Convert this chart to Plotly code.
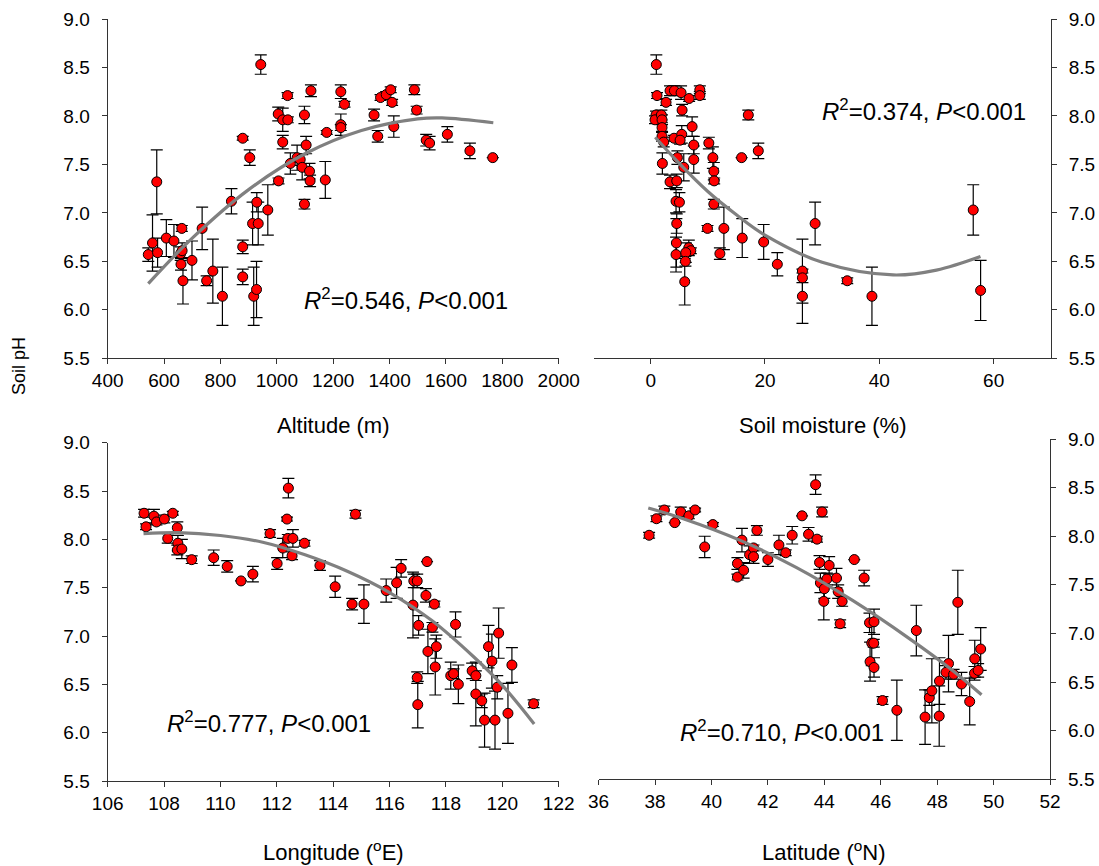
import plotly.graph_objects as go

# ---------------- Data ----------------
alt_x = [544, 559, 574, 577, 608, 635, 663, 659, 664, 660, 667, 699, 735, 751, 773, 807,
         839, 879, 904, 879, 879, 914, 929, 934, 918, 928, 943, 968, 1006, 1005, 1021, 1039,
         1038, 1021, 1048, 1072, 1083, 1090, 1104, 1116, 1118, 1098, 1098, 1121, 1172, 1177,
         1227, 1227, 1227, 1240, 1345, 1358, 1368, 1388, 1404, 1409, 1415, 1488, 1496, 1530,
         1542, 1605, 1685, 1766]
alt_ph = [6.57, 6.69, 7.32, 6.59, 6.74, 6.71, 6.84, 6.58, 6.61, 6.47, 6.30, 6.51, 6.84, 6.30, 6.40, 6.14,
          7.12, 7.77, 7.57, 6.65, 6.34, 6.89, 7.11, 6.89, 6.14, 6.21, 8.53, 7.03, 7.33, 8.02, 7.96, 7.96,
          8.21, 7.73, 7.51, 7.57, 7.55, 7.47, 7.70, 7.43, 7.33, 8.01, 7.09, 8.26, 7.34, 7.83,
          8.25, 7.91, 7.88, 8.12, 8.01, 7.79, 8.19, 8.22, 8.27, 8.14, 7.89, 8.27, 8.06, 7.75,
          7.72, 7.81, 7.64, 7.57]
alt_err = [0.07, 0.29, 0.33, 0.15, 0.19, 0.17, 0.03, 0.07, 0.08, 0.06, 0.24, 0.20, 0.22, 0.05, 0.33, 0.30,
           0.13, 0.02, 0.08, 0.07, 0.08, 0.22, 0.10, 0.22, 0.30, 0.29, 0.10, 0.26, 0.03, 0.07, 0.12, 0.03,
           0.03, 0.07, 0.11, 0.13, 0.06, 0.13, 0.09, 0.08, 0.06, 0.09, 0.05, 0.06, 0.19, 0.02,
           0.07, 0.11, 0.03, 0.03, 0.06, 0.06, 0.03, 0.03, 0.03, 0.03, 0.11, 0.05, 0.04, 0.06,
           0.07, 0.08, 0.08, 0.00]
alt_fit_x = [544, 700, 900, 1100, 1300, 1500, 1586, 1768]
alt_fit_y = [6.27, 6.74, 7.24, 7.61, 7.85, 7.97, 7.98, 7.93]

sm_x = [0.99, 1.11, 0.94, 0.76, 1.87, 1.99, 1.99, 1.99, 2.28, 2.05, 2.69, 3.39, 4.15, 5.32, 6.73,
        8.60, 8.60, 5.50, 7.25, 4.09, 5.44, 5.15, 7.54, 7.54, 4.68, 5.79, 3.39, 4.56, 4.44, 5.03,
        4.56, 4.50, 4.44, 6.67, 7.02, 6.14, 6.08, 5.96, 10.18, 10.88, 11.05, 11.11, 11.05, 9.94,
        12.81, 12.11, 15.91, 17.08, 18.83, 16.02, 19.77, 22.16, 26.55, 26.55, 26.55, 28.77,
        34.39, 38.71, 56.43, 57.72]
sm_ph = [8.53, 8.21, 8.01, 7.96, 8.01, 7.96, 7.88, 7.79, 7.73, 7.51, 8.14, 8.26, 8.26, 8.24, 8.18,
         8.27, 8.21, 8.06, 7.89, 7.77, 7.81, 7.75, 7.70, 7.55, 7.57, 7.47, 7.32, 7.33, 7.12, 7.11,
         6.89, 6.69, 6.57, 6.64, 6.61, 6.59, 6.50, 6.29, 7.72, 7.57, 7.43, 7.33, 7.09, 6.84,
         6.84, 6.58, 7.57, 8.01, 7.64, 6.74, 6.70, 6.47, 6.40, 6.33, 6.14, 6.89,
         6.30, 6.14, 7.03, 6.20]
sm_err = [0.10, 0.03, 0.04, 0.04, 0.05, 0.05, 0.05, 0.05, 0.05, 0.11, 0.03, 0.05, 0.05, 0.07, 0.03,
          0.04, 0.04, 0.06, 0.10, 0.03, 0.09, 0.04, 0.09, 0.14, 0.07, 0.14, 0.07, 0.07, 0.12, 0.10,
          0.10, 0.25, 0.18, 0.08, 0.03, 0.10, 0.05, 0.24, 0.06, 0.11, 0.09, 0.03, 0.05, 0.03,
          0.22, 0.06, 0.00, 0.05, 0.08, 0.20, 0.18, 0.12, 0.33, 0.05, 0.28, 0.22,
          0.03, 0.30, 0.26, 0.31]
sm_fit_x = [0.8, 5, 10, 15, 20, 30, 42.4, 50, 57.7]
sm_fit_y = [7.78, 7.51, 7.22, 6.98, 6.77, 6.49, 6.36, 6.41, 6.55]

lon_x = [107.29, 107.36, 107.64, 107.73, 108.01, 108.31, 108.47, 108.13, 108.49, 108.47, 108.63,
         108.98, 109.76, 110.24, 110.73, 111.15, 111.76, 112.01, 112.21, 112.36, 112.41, 112.39,
         112.57, 112.54, 112.98, 113.53, 114.07, 114.67, 115.09, 114.79, 115.88, 116.25, 116.41,
         116.86, 116.98, 116.83, 117.33, 117.29, 117.59, 117.03, 117.52, 118.34, 117.36, 117.66,
         117.62, 116.98, 117.00, 118.17, 118.27, 118.44, 118.93, 119.06, 119.06, 119.27, 119.37,
         119.51, 119.63, 119.87, 119.82, 119.74, 120.20, 120.34, 121.11]
lon_ph = [8.27, 8.13, 8.24, 8.18, 8.21, 8.27, 8.12, 8.01, 7.96, 7.89, 7.90,
          7.79, 7.81, 7.72, 7.57, 7.64, 8.06, 7.75, 7.91, 8.21, 8.53, 8.01,
          8.01, 7.83, 7.96, 7.73, 7.51, 7.33, 7.33, 8.26, 7.47, 7.55, 7.70,
          7.57, 7.57, 7.32, 7.77, 7.42, 7.33, 7.11, 7.09, 7.12, 6.84, 6.89,
          6.68, 6.57, 6.29, 6.59, 6.61, 6.50, 6.64, 6.59, 6.40, 6.33, 6.13,
          6.89, 6.74, 7.03, 6.47, 6.13, 6.20, 6.70, 6.30]
lon_err = [0.04, 0.03, 0.07, 0.03, 0.04, 0.02, 0.06, 0.05, 0.08, 0.05, 0.10,
           0.04, 0.08, 0.06, 0.00, 0.08, 0.04, 0.06, 0.10, 0.02, 0.10, 0.04,
           0.09, 0.04, 0.03, 0.05, 0.11, 0.06, 0.20, 0.04, 0.12, 0.16, 0.09,
           0.07, 0.07, 0.34, 0.00, 0.07, 0.03, 0.10, 0.05, 0.13, 0.23, 0.12,
           0.29, 0.06, 0.24, 0.14, 0.05, 0.20, 0.08, 0.05, 0.33, 0.07, 0.28,
           0.22, 0.28, 0.26, 0.12, 0.30, 0.31, 0.18, 0.04]
lon_fit_x = [107.27, 108.5, 110, 111.5, 113, 114.5, 116, 117.5, 119, 120, 121.13]
lon_fit_y = [8.06, 8.07, 8.04, 7.97, 7.84, 7.67, 7.45, 7.16, 6.78, 6.49, 6.09]

lat_x = [37.79, 38.05, 38.33, 38.70, 38.91, 39.20, 39.42, 39.76, 40.05, 41.08, 40.92, 40.92,
         41.14, 41.35, 41.49, 41.49, 41.61, 42.00, 42.39, 42.63, 42.86, 43.21, 43.44, 43.69,
         43.74, 43.92, 43.83, 44.17, 43.86, 44.00, 44.09, 43.98, 44.43, 44.49, 44.63, 44.56,
         45.06, 45.41, 45.60, 45.76, 45.68, 45.75, 45.62, 45.76, 46.06, 46.57, 47.26, 47.57,
         47.72, 47.81, 48.08, 48.07, 48.40, 48.31, 48.58, 48.73, 48.86, 49.15, 49.33, 49.32,
         49.45, 49.54]
lat_ph = [8.01, 8.18, 8.27, 8.14, 8.25, 8.21, 8.27, 7.89, 8.12, 7.96, 7.72, 7.58,
          7.65, 7.81, 7.88, 7.79, 8.06, 7.76, 7.91, 7.83, 8.01, 8.21, 8.02, 8.53,
          7.97, 8.25, 7.73, 7.70, 7.52, 7.46, 7.56, 7.33, 7.57, 7.43, 7.33, 7.10,
          7.76, 7.57, 7.11, 7.12, 6.90, 6.90, 6.71, 6.65, 6.31, 6.21, 7.03, 6.14,
          6.34, 6.41, 6.51, 6.15, 6.69, 6.60, 6.58, 7.32, 6.48, 6.30, 6.74, 6.59,
          6.62, 6.84]
lat_err = [0.03, 0.03, 0.04, 0.00, 0.05, 0.03, 0.02, 0.11, 0.02, 0.12, 0.06, 0.03,
           0.08, 0.09, 0.03, 0.07, 0.05, 0.07, 0.10, 0.03, 0.09, 0.00, 0.07, 0.10,
           0.03, 0.05, 0.07, 0.09, 0.10, 0.10, 0.06, 0.19, 0.10, 0.07, 0.05, 0.04,
           0.00, 0.08, 0.10, 0.13, 0.23, 0.04, 0.20, 0.10, 0.04, 0.31, 0.26, 0.28,
           0.08, 0.33, 0.24, 0.31, 0.29, 0.07, 0.05, 0.33, 0.12, 0.24, 0.19, 0.07,
           0.07, 0.22]
lat_fit_x = [37.76, 39, 41, 43, 45, 47, 48.5, 49.57]
lat_fit_y = [8.29, 8.18, 7.96, 7.68, 7.34, 6.95, 6.63, 6.37]

# ---------------- Figure ----------------
W, H = 1099, 866
FONT = "Arial, Liberation Sans, sans-serif"

def px(x):
    return x / W

def py(y):
    return 1 - y / H

fig = go.Figure()

panels = [
    (alt_x, alt_ph, alt_err, alt_fit_x, alt_fit_y, "x", "y"),
    (sm_x, sm_ph, sm_err, sm_fit_x, sm_fit_y, "x2", "y2"),
    (lon_x, lon_ph, lon_err, lon_fit_x, lon_fit_y, "x3", "y3"),
    (lat_x, lat_ph, lat_err, lat_fit_x, lat_fit_y, "x4", "y4"),
]

for xs, ys, es, fx, fy, xa, ya in panels:
    fig.add_trace(go.Scatter(
        x=xs, y=ys, mode="markers", xaxis=xa, yaxis=ya,
        marker=dict(color="#ff0000", size=10, line=dict(color="#000000", width=1)),
        error_y=dict(type="data", array=es, visible=True, color="#000000",
                     thickness=1.2, width=6),
        showlegend=False, cliponaxis=False,
    ))
    fig.add_trace(go.Scatter(
        x=fx, y=fy, mode="lines", xaxis=xa, yaxis=ya,
        line=dict(color="#808080", width=3.2, shape="spline"),
        showlegend=False,
    ))

axis_common = dict(
    showgrid=False, zeroline=False, showline=True, linecolor="#333333", linewidth=1.3,
    ticks="outside", ticklen=5, tickwidth=1.2, tickcolor="#333333", automargin=False,
    tickfont=dict(family=FONT, size=19, color="#000000"),
)
ycommon = dict(axis_common, range=[5.5, 9.0], tickvals=[5.5, 6.0, 6.5, 7.0, 7.5, 8.0, 8.5, 9.0],
               tickformat=".1f", ticklabelstandoff=8)

top_dom = [py(358.3), py(19)]
left_dom = [px(107.7), px(558.7)]
right_dom_top = [px(593.5), px(1050.8)]
right_dom_bot = [px(598.6), px(1050.1)]

fig.update_layout(
    template="none",
    width=W, height=H, autosize=False,
    margin=dict(l=0, r=0, t=0, b=0, pad=0, autoexpand=False),
    paper_bgcolor="white", plot_bgcolor="white",
    font=dict(family=FONT, color="#000000"),
    xaxis=dict(axis_common, domain=left_dom, anchor="y", range=[400, 2000],
               tickvals=list(range(400, 2001, 200))),
    yaxis=dict(ycommon, domain=top_dom, anchor="x", side="left"),
    xaxis2=dict(axis_common, domain=right_dom_top, anchor="y2", range=[-10, 70],
                tickvals=[0, 20, 40, 60]),
    yaxis2=dict(ycommon, domain=top_dom, anchor="x2", side="right"),
    xaxis3=dict(axis_common, domain=left_dom, anchor="y3", range=[106, 122],
                tickvals=list(range(106, 123, 2))),
    yaxis3=dict(ycommon, domain=[py(781), py(442.7)], anchor="x3", side="left"),
    xaxis4=dict(axis_common, domain=right_dom_bot, anchor="y4", range=[36, 52],
                tickvals=list(range(36, 53, 2))),
    yaxis4=dict(ycommon, domain=[py(779.3), py(439)], anchor="x4", side="right"),
)

ann = []
def add_text(text, x, y, size, angle=0):
    ann.append(dict(text=text, x=px(x), y=py(y), xref="paper", yref="paper",
                    xanchor="center", yanchor="middle", showarrow=False, textangle=angle,
                    font=dict(family=FONT, size=size, color="#000000")))

add_text("Altitude (m)", 333, 425, 22)
add_text("Soil moisture (%)", 822, 425, 22)
add_text("Longitude (<sup>o</sup>E)", 333, 851, 22)
add_text("Latitude (<sup>o</sup>N)", 824, 851, 22)
add_text("Soil pH", 19, 366, 18, angle=-90)

stat_size = 24
add_text("<i>R</i><sup>2</sup>=0.546, <i>P</i>&lt;0.001", 406, 299, stat_size)
add_text("<i>R</i><sup>2</sup>=0.374, <i>P</i>&lt;0.001", 924, 110, stat_size)
add_text("<i>R</i><sup>2</sup>=0.777, <i>P</i>&lt;0.001", 269, 722, stat_size)
add_text("<i>R</i><sup>2</sup>=0.710, <i>P</i>&lt;0.001", 782, 731, stat_size)

fig.update_layout(annotations=ann)

fig.write_html("out.html", config={"displayModeBar": False},
               post_script="document.body.style.margin='0px';")
